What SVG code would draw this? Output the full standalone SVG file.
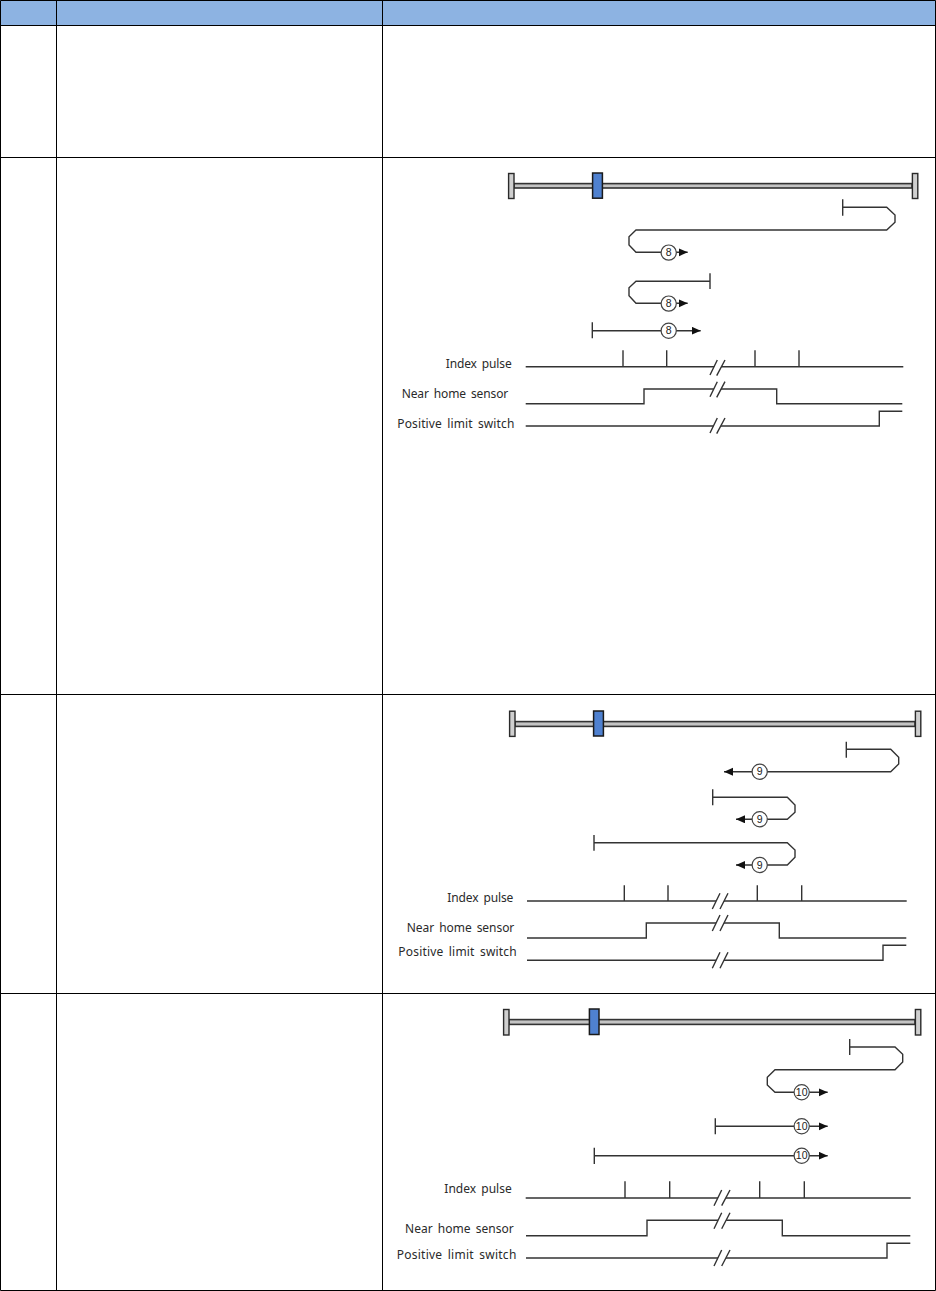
<svg xmlns="http://www.w3.org/2000/svg" width="936" height="1291" viewBox="0 0 936 1291">
<defs>
<marker id="arrow" markerUnits="userSpaceOnUse" markerWidth="10" markerHeight="9" refX="9" refY="4" orient="auto"><path d="M0,0 L9,4 L0,8 Z" fill="#111"/></marker>
</defs>
<style>
.grid{fill:none;stroke:#000;stroke-width:1}
.head{fill:#8DB3E2}
.rail{fill:#c4c4c4;stroke:#333;stroke-width:1.6}
.cap{fill:#cfcfcf;stroke:#2a2a2a;stroke-width:1.4}
.car{fill:#4f81d0;stroke:#1a1a1a;stroke-width:1.5}
.ln{fill:none;stroke:#333;stroke-width:1.4}
.gap{fill:#fff;stroke:none}
.mk{fill:#fff;stroke:#444;stroke-width:1.2}
.n{font-family:"Liberation Sans",Arial,sans-serif;font-size:10.5px;fill:#222;text-anchor:middle}
.lb{font-family:"Noto Sans","Open Sans",sans-serif;font-size:12px;fill:#2a2a2a;word-spacing:2px}
</style>
<g id="table">
<rect class="head" x="0" y="0" width="936" height="25"/>
<path class="grid" d="M0.5,0.5H935.5V1290.5H0.5Z M56.5,0.5V1290.5 M382.5,0.5V1290.5 M0.5,25.5H935.5 M0.5,157.5H935.5 M0.5,694.5H935.5 M0.5,993.5H935.5"/>
</g>
<g id="connectors">
<!-- panel A -->
<path class="ln" d="M842.7,199.3V215.7 M842.7,207.3H886.7L895,215V222.3L886.7,230H636L629,236.7V245L636,252.3H687.7" marker-end="url(#arrow)"/>
<path class="ln" d="M710,273.3V289 M710,281.3H636L629,287.7V295.7L636,303.3H687.7" marker-end="url(#arrow)"/>
<path class="ln" d="M592.3,322.3V338.3 M592.3,330.7H700.7" marker-end="url(#arrow)"/>
<path class="ln" d="M525.7,366.7H903.3 M623,350.3V366.7 M666.7,350.3V366.7 M755,350.3V366.7 M799,350.3V366.7"/>
<path class="ln" d="M525.7,403.7H644V389H776.7V403.7H902.3"/>
<path class="ln" d="M525.7,426H879.3V411.3H902.3"/>
<path class="gap" d="M710,376L717.3,360H725L717,376Z M710,397L717.3,381H725L717,397Z M710,434L717.3,418H725L717,434Z"/>
<path class="ln" d="M710,375L717.3,360 M716.7,375.7L725,360 M710,396.7L717.3,381.7 M716.7,397.4L725,381.7 M710,433L717.3,418 M716.7,433.7L725,418"/>
<!-- panel B -->
<path class="ln" d="M846.3,741.7V757.7 M846.3,749.3H890.7L898.7,757.3V764L890.7,771.7H724" marker-end="url(#arrow)"/>
<path class="ln" d="M712.7,789.3V805.3 M712.7,797.3H787.3L795,805V812.3L787.3,819.3H736" marker-end="url(#arrow)"/>
<path class="ln" d="M594,835V850.7 M594,842.7H787.3L795,850V857.3L787.3,865H736" marker-end="url(#arrow)"/>
<path class="ln" d="M527,901H906.7 M624.3,885.3V901 M668,885.3V901 M757.3,885.3V901 M801.7,885.3V901"/>
<path class="ln" d="M527,938H646.3V923H779.3V938H906.3"/>
<path class="ln" d="M527,960.3H883V945.3H906.3"/>
<path class="gap" d="M712.3,909L720,893.3H728L720,909Z M712.3,931L720,915H728L720,931Z M712.3,968.3L720,952.3H728L720,968.3Z"/>
<path class="ln" d="M712.3,909L720,893.3 M720,909L728,893.3 M712.3,931L720,915 M720,931L728,915 M712.3,968.3L720,952.3 M720,968.3L728,952.3"/>
<!-- panel C -->
<path class="ln" d="M849.7,1039V1055 M849.7,1047H895L902.7,1054.3V1062L895,1069.7H775L767.3,1077.3V1085L775,1092.3H827.7" marker-end="url(#arrow)"/>
<path class="ln" d="M715.3,1118.3V1134.3 M715.3,1126.3H827.7" marker-end="url(#arrow)"/>
<path class="ln" d="M594.3,1147.7V1164 M594.3,1155.7H827.7" marker-end="url(#arrow)"/>
<path class="ln" d="M525.7,1198H910.7 M625,1181.3V1198 M669.7,1181.3V1198 M759.7,1181.3V1198 M804.3,1181.3V1198"/>
<path class="ln" d="M526,1235.7H647V1220.3H782.3V1235.7H910.3"/>
<path class="ln" d="M526,1258H887V1243.3H910.3"/>
<path class="gap" d="M714,1205.7L721.7,1190H730L722,1205.7Z M714,1228.7L721.7,1212.7H730L722,1228.7Z M714,1266L721.7,1250H730L722,1266Z"/>
<path class="ln" d="M714,1205.7L721.7,1190 M721.7,1205.7L730,1190 M714,1228.7L721.7,1212.7 M721.7,1228.7L730,1212.7 M714,1266L721.7,1250 M721.7,1266L730,1250"/>
</g>
<g id="axis-a">
<rect class="rail" x="514" y="183.6" width="398" height="4.4"/>
<rect class="cap" x="508.6" y="173.5" width="5.4" height="25"/>
<rect class="cap" x="912.4" y="173.5" width="5.4" height="25"/>
<rect class="car" x="592.6" y="173" width="9.8" height="25.2"/>
</g>
<g id="axis-b">
<rect class="rail" x="515" y="721.6" width="400" height="4.8"/>
<rect class="cap" x="509.6" y="711.2" width="5.4" height="25.2"/>
<rect class="cap" x="915.4" y="711.2" width="5.4" height="25.2"/>
<rect class="car" x="593.6" y="711" width="9.8" height="25"/>
</g>
<g id="axis-c">
<rect class="rail" x="509" y="1019.6" width="406" height="4.8"/>
<rect class="cap" x="503.6" y="1009.5" width="5.4" height="25.5"/>
<rect class="cap" x="915.4" y="1009.5" width="5.4" height="25.5"/>
<rect class="car" x="589.4" y="1009" width="9.6" height="25.5"/>
</g>
<g id="marker-a1"><circle class="mk" cx="668.7" cy="252.6" r="7.6"/><text class="n" x="668.7" y="256.3">8</text></g>
<g id="marker-a2"><circle class="mk" cx="668.7" cy="303.6" r="7.6"/><text class="n" x="668.7" y="307.3">8</text></g>
<g id="marker-a3"><circle class="mk" cx="668.7" cy="330.7" r="7.6"/><text class="n" x="668.7" y="334.4">8</text></g>
<g id="marker-b1"><circle class="mk" cx="759.7" cy="771.7" r="7.6"/><text class="n" x="759.7" y="775.4">9</text></g>
<g id="marker-b2"><circle class="mk" cx="759.7" cy="819.3" r="7.6"/><text class="n" x="759.7" y="823">9</text></g>
<g id="marker-b3"><circle class="mk" cx="759.7" cy="865" r="7.6"/><text class="n" x="759.7" y="868.7">9</text></g>
<g id="marker-c1"><circle class="mk" cx="801.7" cy="1092.3" r="7.6"/><text class="n" x="801.7" y="1096">10</text></g>
<g id="marker-c2"><circle class="mk" cx="801.7" cy="1126.3" r="7.6"/><text class="n" x="801.7" y="1130">10</text></g>
<g id="marker-c3"><circle class="mk" cx="801.7" cy="1155.7" r="7.6"/><text class="n" x="801.7" y="1159.4">10</text></g>
<g id="labels-a">
<text class="lb" x="445.7" y="368" textLength="66">Index pulse</text>
<text class="lb" x="401.7" y="398" textLength="106.6">Near home sensor</text>
<text class="lb" x="397.3" y="428" textLength="117">Positive limit switch</text>
</g>
<g id="labels-b">
<text class="lb" x="447.3" y="901.7" textLength="66">Index pulse</text>
<text class="lb" x="406.7" y="931.7" textLength="107.6">Near home sensor</text>
<text class="lb" x="398.3" y="956" textLength="118.4">Positive limit switch</text>
</g>
<g id="labels-c">
<text class="lb" x="444.3" y="1192.7" textLength="67.4">Index pulse</text>
<text class="lb" x="405" y="1233.3" textLength="108.7">Near home sensor</text>
<text class="lb" x="396.7" y="1258.7" textLength="119.6">Positive limit switch</text>
</g>
</svg>
